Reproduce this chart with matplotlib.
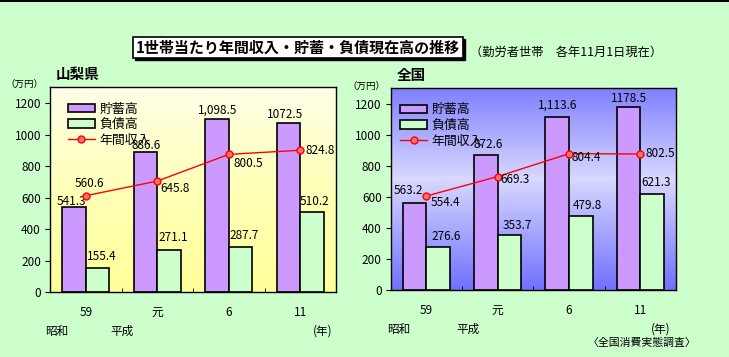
import numpy as np
import matplotlib
matplotlib.use('Agg')
import matplotlib.pyplot as plt
from matplotlib.patches import Patch, Rectangle
from matplotlib.lines import Line2D

plt.rcParams['font.family'] = ['Noto Sans CJK JP', 'DejaVu Sans']

# data (万円)
cats = ['59', '元', '6', '11']
yam_save = [541.3, 886.6, 1098.5, 1072.5]
yam_debt = [155.4, 271.1, 287.7, 510.2]
yam_inc = [560.6, 645.8, 800.5, 824.8]
yam_save_txt = ['541.3', '886.6', '1,098.5', '1072.5']

zen_save = [563.2, 872.6, 1113.6, 1178.5]
zen_debt = [276.6, 353.7, 479.8, 621.3]
zen_inc = [554.4, 669.3, 804.4, 802.5]
zen_save_txt = ['563.2', '872.6', '1,113.6', '1178.5']

series_names = ['貯蓄高', '負債高', '年間収入']

W, H = 729, 357
fig = plt.figure(figsize=(W / 100, H / 100), dpi=100)
fig.patch.set_facecolor('#CCFFCC')


def px(x, y):
    return x / W, 1 - y / H


def gradient(ax, stops, cols):
    n = 256
    t = np.linspace(0, 1, n)
    cols = np.array([matplotlib.colors.to_rgb(c) for c in cols])
    arr = np.stack([np.interp(t, stops, cols[:, k]) for k in range(3)], axis=-1)
    arr = arr[:, None, :]
    ax.imshow(arr, extent=[0, 1, 0, 1], transform=ax.transAxes, aspect='auto',
              origin='lower', zorder=0, interpolation='bilinear')


def panel(rect, save, debt, inc, save_txt, grad, save_off, debt_off, inc_off, leg_anchor):
    ax = fig.add_axes(rect)
    gradient(ax, *grad)
    x = np.arange(len(cats))
    w = 0.33
    ax.bar(x - w / 2, save, w, color='#CC99FF', edgecolor='black', linewidth=1.2, zorder=2)
    ax.bar(x + w / 2, debt, w, color='#CCFFCC', edgecolor='black', linewidth=1.2, zorder=2)
    ax.set_xlim(-0.5, 3.5)
    ax.set_ylim(0, 1300)
    ax.set_yticks(range(0, 1201, 200))
    ax.tick_params(axis='y', direction='out', length=3.5, pad=3, labelsize=8.5)
    ax.set_xticks(x)
    ax.set_xticklabels(cats)
    ax.tick_params(axis='x', length=0, pad=10, labelsize=8.5)
    ax.set_xticks([0.5, 1.5, 2.5], minor=True)
    ax.tick_params(axis='x', which='minor', direction='in', length=3)
    for s in ax.spines.values():
        s.set_linewidth(1.0)

    for i in range(len(cats)):
        ax.annotate(save_txt[i], (x[i] - w / 2, save[i]), xytext=save_off[i],
                    textcoords='offset pixels', ha='center', va='center', fontsize=8.5, zorder=3)
        ax.annotate(f'{debt[i]:.1f}', (x[i] + w / 2, debt[i]), xytext=debt_off[i],
                    textcoords='offset pixels', ha='center', va='center', fontsize=8.5, zorder=3)

    # income is drawn on its own (hidden) scale, like the original
    ax2 = ax.twinx()
    ax2.set_ylim(0, 1190)
    ax2.set_yticks([])
    for s in ax2.spines.values():
        s.set_visible(False)
    ax2.plot(x, inc, color='red', linewidth=1.0, marker='o', markersize=5,
             markerfacecolor='#FF7070', markeredgecolor='red', zorder=4)
    for i in range(len(cats)):
        dx, dy, ha = inc_off[i]
        ax2.annotate(f'{inc[i]:.1f}', (x[i], inc[i]), xytext=(dx, dy),
                     textcoords='offset pixels', ha=ha, va='center', fontsize=8.5, zorder=5)

    handles = [Patch(facecolor='#CC99FF', edgecolor='black', linewidth=1.2),
               Patch(facecolor='#CCFFCC', edgecolor='black', linewidth=1.2),
               Line2D([], [], color='red', linewidth=1.0, marker='o', markersize=5,
                      markerfacecolor='#FF7070', markeredgecolor='red')]
    ax2.legend(handles, series_names, loc='upper left', bbox_to_anchor=leg_anchor,
               frameon=False, fontsize=9.3, borderpad=0, borderaxespad=0,
               handlelength=2.1, handleheight=0.6, handletextpad=0.35, labelspacing=0.2)
    return ax


yellow = ([0, 0.5, 1], ['#FFFF99', '#FFFFB8', '#FFFFE8'])
blue = ([0, 0.55, 1], ['#7070FF', '#D8D8FF', '#8080FF'])

panel([50 / W, 1 - 292.3 / H, 286 / W, 205 / H], yam_save, yam_debt, yam_inc, yam_save_txt, yellow,
      [(-3, 5), (1, 7), (1, 9), (-3, 9)],
      [(4, 11), (4, 12.5), (4, 11), (2, 10)],
      [(4, 12, 'center'), (3, -7, 'left'), (5, -9, 'left'), (5, 0, 'left')],
      (0.062, 0.926))

panel([390.7 / W, 1 - 290 / H, 285.3 / W, 201.7 / H], zen_save, zen_debt, zen_inc, zen_save_txt, blue,
      [(-6, 12), (2, 10), (0, 12), (0, 9)],
      [(8.5, 10.5), (8, 10), (7, 10), (4, 11)],
      [(4, -6, 'left'), (3, -3, 'left'), (2, -4, 'left'), (5, 0, 'left')],
      (0.033, 0.925))

# title box with shadow
fig.patches.append(Rectangle(px(135.2, 60.3), 330 / W, 21 / H, transform=fig.transFigure,
                             facecolor='black', edgecolor='black', zorder=1))
fig.patches.append(Rectangle(px(132.7, 58.3), 330 / W, 21 / H, transform=fig.transFigure,
                             facecolor='white', edgecolor='black', linewidth=1.2, zorder=2))
fig.text(*px(297.7, 48), '1世帯当たり年間収入・貯蓄・負債現在高の推移', ha='center', va='center',
         fontsize=10.8, fontweight='bold', zorder=3)
fig.text(*px(470, 52), '（勤労者世帯　各年11月1日現在）', ha='left', va='center', fontsize=8.8)

fig.text(*px(56, 74), '山梨県', ha='left', va='center', fontsize=10.5, fontweight='bold')
fig.text(*px(397, 75), '全国', ha='left', va='center', fontsize=10.5, fontweight='bold')
fig.text(*px(24, 84), '（万円）', ha='center', va='center', fontsize=6.8)
fig.text(*px(366, 86), '（万円）', ha='center', va='center', fontsize=6.8)

fig.text(*px(56.7, 331), '昭和', ha='center', va='center', fontsize=8.4)
fig.text(*px(122, 331), '平成', ha='center', va='center', fontsize=8.4)
fig.text(*px(323, 331), '(年)', ha='center', va='center', fontsize=8.4)
fig.text(*px(398.6, 329), '昭和', ha='center', va='center', fontsize=8.4)
fig.text(*px(468, 329), '平成', ha='center', va='center', fontsize=8.4)
fig.text(*px(660.5, 329), '(年)', ha='center', va='center', fontsize=8.4)
fig.text(*px(642, 343), '〈全国消費実態調査〉', ha='center', va='center', fontsize=7.8)

# black strip at the top
fig.patches.append(Rectangle((0, 1 - 1.5 / H), 1, 1.5 / H, transform=fig.transFigure,
                             facecolor='black', edgecolor='none'))

fig.savefig('out.png', dpi=100, facecolor=fig.get_facecolor())
